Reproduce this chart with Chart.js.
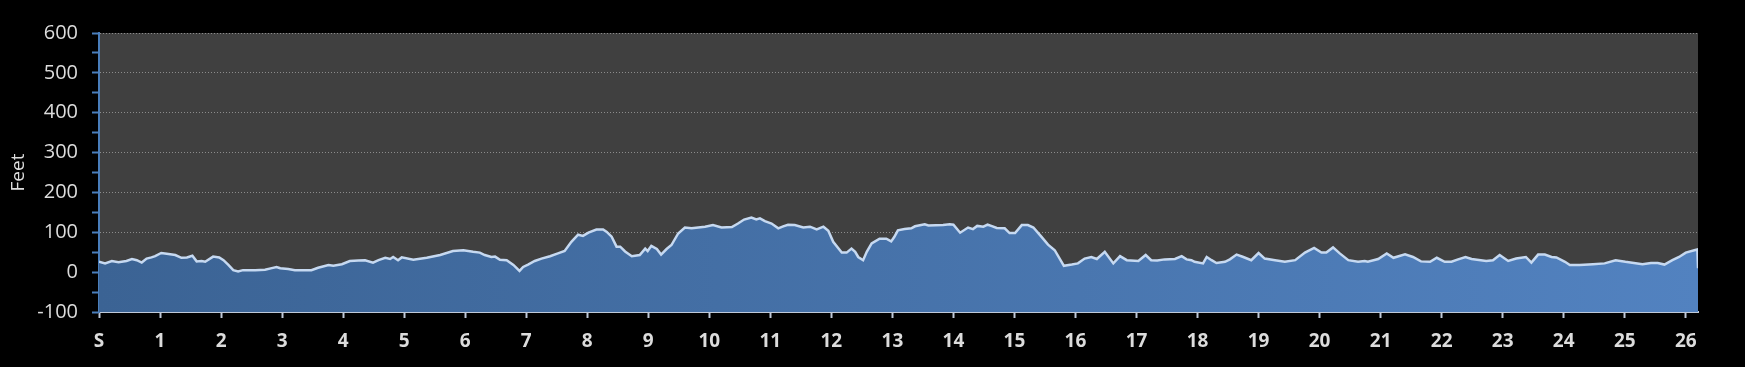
<!DOCTYPE html>
<html>
<head>
<meta charset="utf-8">
<title>Elevation</title>
<script src="https://cdn.jsdelivr.net/npm/chart.js@4"></script>
<style>
    html, body { margin: 0; padding: 0; background: #000000; overflow: hidden; }
    canvas { display: block; }
</style>
</head>
<body>
<canvas id="chart-elevation" width="1745" height="367"></canvas>
<script>
// course distance in miles and elevation in feet
const miles = [
    0, 0.10, 0.21, 0.32, 0.45, 0.54, 0.62, 0.70, 0.78, 0.86, 0.92, 1.02, 1.11, 1.25, 1.35, 1.44, 1.53, 1.60, 1.68, 1.74,
    1.87, 1.97, 2.04, 2.12, 2.20, 2.28, 2.36, 2.56, 2.72, 2.83, 2.91, 2.97, 3.10, 3.21, 3.48, 3.59, 3.76, 3.84, 3.98, 4.11,
    4.25, 4.36, 4.49, 4.58, 4.69, 4.77, 4.82, 4.90, 4.96, 5.15, 5.37, 5.59, 5.80, 5.97, 6.13, 6.24, 6.32, 6.43, 6.49, 6.57,
    6.68, 6.79, 6.89, 6.95, 7.03, 7.14, 7.25, 7.39, 7.52, 7.63, 7.74, 7.85, 7.93, 8.02, 8.15, 8.26, 8.32, 8.40, 8.48, 8.54,
    8.62, 8.73, 8.86, 8.95, 8.99, 9.05, 9.14, 9.21, 9.30, 9.38, 9.49, 9.60, 9.71, 9.93, 10.06, 10.20, 10.37, 10.47, 10.57, 10.69,
    10.77, 10.83, 10.91, 11.02, 11.13, 11.21, 11.29, 11.40, 11.54, 11.65, 11.76, 11.87, 11.95, 12.03, 12.17, 12.25, 12.33, 12.39, 12.44, 12.52,
    12.58, 12.66, 12.79, 12.90, 12.98, 13.03, 13.09, 13.20, 13.31, 13.37, 13.53, 13.59, 13.83, 13.94, 14.00, 14.11, 14.24, 14.32, 14.39, 14.49,
    14.56, 14.62, 14.71, 14.84, 14.92, 15.01, 15.12, 15.22, 15.31, 15.44, 15.55, 15.66, 15.81, 15.94, 16.04, 16.15, 16.26, 16.35, 16.48, 16.62,
    16.73, 16.84, 17.03, 17.15, 17.24, 17.34, 17.46, 17.63, 17.74, 17.82, 17.90, 17.95, 18.09, 18.15, 18.23, 18.31, 18.45, 18.53, 18.64, 18.75,
    18.88, 19.00, 19.10, 19.27, 19.43, 19.60, 19.76, 19.91, 20.03, 20.11, 20.22, 20.33, 20.47, 20.63, 20.74, 20.79, 20.96, 21.10, 21.21, 21.40,
    21.53, 21.66, 21.81, 21.92, 22.05, 22.16, 22.27, 22.39, 22.49, 22.73, 22.84, 22.95, 23.09, 23.22, 23.38, 23.47, 23.58, 23.69, 23.80, 23.88,
    24.02, 24.10, 24.26, 24.48, 24.67, 24.85, 25.01, 25.15, 25.29, 25.43, 25.54, 25.65, 25.78, 25.89, 26.00, 26.14, 26.19, 26.2
];
const feet = [
    26, 22, 28, 25, 28, 33, 30, 24, 34, 37, 40, 48, 46, 43, 36, 37, 41, 27, 28, 26,
    39, 37, 30, 18, 5, 2, 5, 5, 6, 10, 13, 10, 8, 5, 5, 11, 18, 16, 20, 28,
    29, 30, 24, 30, 36, 33, 38, 30, 37, 31, 36, 43, 53, 55, 51, 49, 43, 38, 39, 31,
    30, 18, 3, 13, 19, 28, 34, 40, 47, 53, 76, 94, 91, 99, 107, 107, 101, 89, 64, 64,
    52, 40, 43, 59, 53, 66, 58, 44, 58, 68, 97, 112, 110, 114, 118, 112, 113, 122, 132, 137,
    132, 135, 128, 122, 110, 115, 119, 118, 112, 114, 107, 114, 104, 76, 49, 49, 59, 51, 38, 30,
    51, 72, 84, 84, 77, 88, 105, 108, 110, 115, 120, 117, 118, 120, 119, 99, 112, 108, 116, 114,
    119, 116, 111, 110, 98, 98, 118, 118, 112, 89, 69, 55, 16, 19, 22, 34, 38, 33, 51, 22,
    40, 30, 28, 43, 30, 29, 32, 33, 40, 32, 30, 26, 22, 38, 30, 23, 26, 32, 44, 38,
    30, 48, 34, 30, 26, 30, 49, 61, 49, 49, 62, 47, 30, 26, 28, 26, 33, 47, 36, 45,
    38, 27, 26, 36, 26, 26, 32, 38, 33, 28, 30, 43, 28, 34, 38, 24, 44, 44, 38, 37,
    26, 18, 18, 20, 22, 30, 26, 23, 20, 23, 23, 19, 30, 38, 49, 55, 57, 10
];

const mileTicks = [0, 1, 2, 3, 4, 5, 6, 7, 8, 9, 10, 11, 12, 13, 14, 15, 16, 17, 18, 19, 20, 21, 22, 23, 24, 25, 26];
const mileLabels = ['S', '1', '2', '3', '4', '5', '6', '7', '8', '9', '10', '11', '12', '13', '14', '15', '16', '17', '18', '19', '20', '21', '22', '23', '24', '25', '26'];
const feetTicks = [-100, 0, 100, 200, 300, 400, 500, 600];

let chart_elevation = document.getElementById('chart-elevation');

const points = [];
miles.forEach((m, i) => {
    points.push({ x: m, y: feet[i] });
});

// dark plot background behind the area
const plotBackground = {
    id: 'plotBackground',
    beforeDraw(chart) {
        const a = chart.chartArea;
        chart.ctx.save();
        chart.ctx.fillStyle = '#404040';
        chart.ctx.fillRect(a.left, a.top, a.right - a.left, a.bottom - a.top);
        chart.ctx.restore();
    }
};

new Chart(chart_elevation, {
    type: 'line',
    data: {
        datasets: [
            {
                label: 'Feet',
                data: points,
                borderWidth: 2.5,
                borderColor: '#c6d9f1',
                tension: 0,
                pointRadius: 0,
                fill: 'start',
                backgroundColor: function (context) {
                    const area = context.chart.chartArea;
                    if (!area) {
                        return '#4a76ad';
                    }
                    const g = context.chart.ctx.createLinearGradient(area.left, 0, area.right, 0);
                    g.addColorStop(0, '#3b6394');
                    g.addColorStop(1, '#5282c0');
                    return g;
                },
            },
        ]
    },
    options: {
        responsive: false,
        animation: false,
        devicePixelRatio: 1,
        layout: {
            padding: { top: 33, right: 47, left: 0, bottom: 0 }
        },
        plugins: {
            legend: { display: false },
            tooltip: { enabled: false },
        },
        scales: {
            x: {
                type: 'linear',
                min: 0,
                max: 26.2,
                afterBuildTicks: scale => {
                    scale.ticks = mileTicks.map(v => ({ value: v }));
                },
                afterFit: scale => {
                    scale.height = 55;
                },
                grid: {
                    drawOnChartArea: false,
                    tickColor: '#bfc9d9',
                    tickLength: 6,
                    tickWidth: 2,
                },
                border: {
                    color: '#bfc9d9',
                    width: 2,
                },
                ticks: {
                    autoSkip: false,
                    maxRotation: 0,
                    padding: 12,
                    color: '#dcdcdc',
                    font: { family: 'Open Sans', size: 19, weight: 'bold' },
                    callback: value => mileLabels[mileTicks.indexOf(value)],
                }
            },
            y: {
                min: feetTicks[0],
                max: feetTicks[feetTicks.length - 1],
                afterFit: scale => {
                    scale.width = 99;
                },
                title: {
                    display: true,
                    text: 'Feet',
                    color: '#dcdcdc',
                    font: { family: 'Open Sans', size: 19 },
                    padding: { top: 7, bottom: 0 },
                },
                ticks: {
                    stepSize: 50,
                    autoSkip: false,
                    padding: 14,
                    color: '#dcdcdc',
                    font: { family: 'Open Sans', size: 20 },
                    callback: value => feetTicks.includes(value) ? String(value) : '',
                },
                grid: {
                    color: context => (context.tick && context.tick.value > 0 && context.tick.value % 100 === 0) ? '#8c8c8c' : 'rgba(0,0,0,0)',
                    lineWidth: 1,
                    tickColor: '#4a7ebb',
                    tickLength: 7,
                    tickWidth: 2,
                },
                border: {
                    color: '#4a7ebb',
                    width: 2,
                    dash: [1, 2],
                }
            }
        }
    },
    plugins: [plotBackground]
});
</script>
</body>
</html>
